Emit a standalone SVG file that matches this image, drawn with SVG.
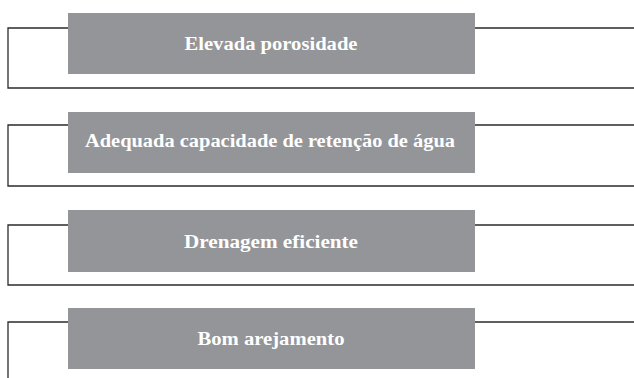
<svg xmlns="http://www.w3.org/2000/svg" width="634" height="378" viewBox="0 0 634 378">
<style>
.box{fill:#939598}
.lbl{font-family:"Liberation Serif","Times New Roman",serif;font-weight:bold;font-size:18.5px;fill:#ffffff;text-anchor:middle}
.ln{fill:none;stroke:#2b2b2b;stroke-width:1.3}
</style>
<rect width="634" height="378" fill="#ffffff"/>
<g id="connectors">
<path class="ln" d="M68,28 H8 V88 H634 M475,28 H634"/>
<path class="ln" d="M68,125 H8 V186 H634 M475,125 H634"/>
<path class="ln" d="M68,225 H8 V285 H634 M475,225 H634"/>
<path class="ln" d="M68,322 H8 V378 M475,322 H634"/>
</g>
<g id="node1">
<rect class="box" x="68" y="13" width="407" height="61"/>
<text class="lbl" x="271" y="50" textLength="173" lengthAdjust="spacingAndGlyphs">Elevada porosidade</text>
</g>
<g id="node2">
<rect class="box" x="68" y="112" width="407" height="61"/>
<text class="lbl" x="270" y="147" textLength="370" lengthAdjust="spacingAndGlyphs">Adequada capacidade de retenção de água</text>
</g>
<g id="node3">
<rect class="box" x="68" y="210" width="407" height="62"/>
<text class="lbl" x="271" y="248" textLength="174" lengthAdjust="spacingAndGlyphs">Drenagem eficiente</text>
</g>
<g id="node4">
<rect class="box" x="68" y="308" width="407" height="61"/>
<text class="lbl" x="271" y="345" textLength="147" lengthAdjust="spacingAndGlyphs">Bom arejamento</text>
</g>
</svg>
